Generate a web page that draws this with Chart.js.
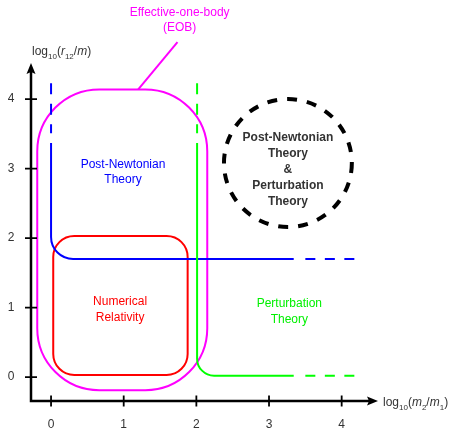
<!DOCTYPE html>
<html>
<head>
<meta charset="utf-8">
<script src="https://cdn.jsdelivr.net/npm/chart.js@4.4.1/dist/chart.umd.min.js"></script>
<style>
  html, body { margin: 0; padding: 0; background: #fff; }
</style>
</head>
<body>
<canvas id="regimes" width="449" height="428"></canvas>
<script>
// tick values on both axes (log10 units)
const xTicks = [0, 1, 2, 3, 4];
const yTicks = [0, 1, 2, 3, 4];

// regions: [x0, y0, x1, y1]
const eobBox = [-0.19, -0.19, 2.15, 4.14];
const nrBox = [0.03, 0.03, 1.88, 2.03];

// boundary lines: [x, y] points
const pnLine = [[0, 3.37], [0, 1.70], [3.34, 1.70]];
const pnDashV = [[0, 4.23], [0, 3.51]];
const pnDashH = [[3.50, 1.70], [4.18, 1.70]];
const ptLine = [[2.01, 3.37], [2.01, 0.02], [3.34, 0.02]];
const ptDashV = [[2.01, 4.23], [2.01, 3.51]];
const ptDashH = [[3.50, 0.02], [4.18, 0.02]];
const eobPointer = [[1.20, 4.14], [1.74, 4.82]];

// overlap circle: [cx, cy, radius in x units]
const overlapCircle = [3.26, 3.08, 0.88];

const FONT = '"Liberation Sans", Arial, Helvetica, sans-serif';
const toXY = pts => pts.map(p => ({ x: p[0], y: p[1] }));

function seg(pts, color, dash) {
  return {
    data: toXY(pts),
    showLine: true,
    borderColor: color,
    borderWidth: 2,
    borderDash: dash || [],
    pointRadius: 0,
    clip: false
  };
}

function roundedPath(ctx, pts, r) {
  ctx.beginPath();
  ctx.moveTo(pts[0][0], pts[0][1]);
  for (let i = 1; i < pts.length - 1; i++) {
    ctx.arcTo(pts[i][0], pts[i][1], pts[i + 1][0], pts[i + 1][1], r);
  }
  ctx.lineTo(pts[pts.length - 1][0], pts[pts.length - 1][1]);
}

function roundBox(ctx, l, t, rgt, b, r) {
  ctx.beginPath();
  ctx.moveTo(l + r, t);
  ctx.arcTo(rgt, t, rgt, b, r);
  ctx.arcTo(rgt, b, l, b, r);
  ctx.arcTo(l, b, l, t, r);
  ctx.arcTo(l, t, rgt, t, r);
  ctx.closePath();
}

// "log10(a_b/c_d)" style label with subscripts and italics
function richText(ctx, parts, x, y) {
  let cx = x;
  parts.forEach(p => {
    const size = p.sub ? 8 : 12;
    ctx.font = (p.it ? 'italic ' : '') + size + 'px ' + FONT;
    ctx.fillText(p.t, cx, y + (p.sub ? 4 : 0));
    cx += ctx.measureText(p.t).width;
  });
}

function lines(ctx, txt, x, y, step) {
  txt.forEach((t, i) => ctx.fillText(t, x, y + i * step));
}

const diagram = {
  id: 'diagram',
  beforeDatasetsDraw(chart) {
    const { ctx, scales: { x, y } } = chart;
    const px = v => x.getPixelForValue(v);
    const py = v => y.getPixelForValue(v);
    const P = pts => pts.map(p => [px(p[0]), py(p[1])]);
    ctx.save();
    ctx.lineWidth = 2;

    ctx.strokeStyle = '#ff00ff';
    roundBox(ctx, px(eobBox[0]), py(eobBox[3]), px(eobBox[2]), py(eobBox[1]), 62);
    ctx.stroke();

    ctx.strokeStyle = '#ff0000';
    roundBox(ctx, px(nrBox[0]), py(nrBox[3]), px(nrBox[2]), py(nrBox[1]), 21);
    ctx.stroke();

    ctx.strokeStyle = '#0000ff';
    roundedPath(ctx, P(pnLine), 22);
    ctx.stroke();

    ctx.strokeStyle = '#00ff00';
    roundedPath(ctx, P(ptLine), 17);
    ctx.stroke();

    // dashed circle
    const [ccx, ccy, cr] = overlapCircle;
    const rpx = px(ccx + cr) - px(ccx);
    ctx.strokeStyle = '#000';
    ctx.lineWidth = 4;
    ctx.setLineDash([10, 10]);
    ctx.beginPath();
    ctx.arc(px(ccx), py(ccy), rpx, 0, Math.PI * 2);
    ctx.stroke();
    ctx.setLineDash([]);
    ctx.restore();
  },
  afterDraw(chart) {
    const { ctx, chartArea: a, scales: { x, y } } = chart;
    const px = v => x.getPixelForValue(v);
    const py = v => y.getPixelForValue(v);
    const ax = px(x.min), ay = py(y.min);
    ctx.save();

    // axes with arrow heads
    ctx.strokeStyle = '#000';
    ctx.fillStyle = '#000';
    ctx.lineWidth = 2.5;
    ctx.beginPath();
    ctx.moveTo(ax, a.top + 8);
    ctx.lineTo(ax, ay);
    ctx.lineTo(a.right - 8, ay);
    ctx.stroke();
    ctx.beginPath();
    ctx.moveTo(ax, a.top);
    ctx.lineTo(ax - 4.5, a.top + 11);
    ctx.lineTo(ax, a.top + 9);
    ctx.lineTo(ax + 4.5, a.top + 11);
    ctx.closePath();
    ctx.fill();
    ctx.beginPath();
    ctx.moveTo(a.right, ay);
    ctx.lineTo(a.right - 11, ay - 4.5);
    ctx.lineTo(a.right - 9, ay);
    ctx.lineTo(a.right - 11, ay + 4.5);
    ctx.closePath();
    ctx.fill();

    // tick marks crossing the axes
    ctx.lineWidth = 1.8;
    ctx.beginPath();
    xTicks.forEach(v => { ctx.moveTo(px(v), ay - 5.5); ctx.lineTo(px(v), ay + 5.5); });
    yTicks.forEach(v => { ctx.moveTo(ax - 6, py(v)); ctx.lineTo(ax + 6, py(v)); });
    ctx.stroke();

    // axis titles
    ctx.fillStyle = '#333';
    ctx.textAlign = 'left';
    ctx.textBaseline = 'alphabetic';
    richText(ctx, [{ t: 'log' }, { t: '10', sub: true }, { t: '(' }, { t: 'r', it: true },
      { t: '12', sub: true }, { t: '/' }, { t: 'm', it: true }, { t: ')' }], 32, 55);
    richText(ctx, [{ t: 'log' }, { t: '10', sub: true }, { t: '(' }, { t: 'm', it: true },
      { t: '2', sub: true }, { t: '/' }, { t: 'm', it: true }, { t: '1', sub: true }, { t: ')' }], 383, 406);

    // region labels
    ctx.textAlign = 'center';
    ctx.textBaseline = 'middle';
    ctx.font = '12px ' + FONT;
    ctx.fillStyle = '#ff00ff';
    lines(ctx, ['Effective-one-body', '(EOB)'], px(1.77), 13, 14.5);
    ctx.fillStyle = '#0000ff';
    lines(ctx, ['Post-Newtonian', 'Theory'], px(0.99), py(3.06), 15.5);
    ctx.fillStyle = '#ff0000';
    lines(ctx, ['Numerical', 'Relativity'], px(0.95), py(1.08), 16);
    ctx.fillStyle = '#00f000';
    lines(ctx, ['Perturbation', 'Theory'], px(3.28), py(1.05), 16);
    ctx.fillStyle = '#333';
    ctx.font = 'bold 12px ' + FONT;
    lines(ctx, ['Post-Newtonian', 'Theory', '&', 'Perturbation', 'Theory'], px(3.26), py(3.45), 16.2);
    ctx.restore();
  }
};

new Chart(document.getElementById('regimes'), {
  type: 'scatter',
  data: {
    datasets: [
      seg(pnDashV, '#0000ff', [11, 9.5]),
      seg(pnDashH, '#0000ff', [10, 9.5]),
      seg(ptDashV, '#00ff00', [11, 9.5]),
      seg(ptDashH, '#00ff00', [10, 9.5]),
      seg(eobPointer, '#ff00ff')
    ]
  },
  options: {
    responsive: false,
    animation: false,
    events: [],
    layout: { padding: { left: 0, top: 63, right: 71, bottom: 0 } },
    plugins: { legend: { display: false }, tooltip: { enabled: false } },
    scales: {
      x: {
        type: 'linear',
        min: -0.276,
        max: 4.5,
        grid: { display: false, drawTicks: false },
        border: { display: false },
        afterBuildTicks: axis => { axis.ticks = xTicks.map(v => ({ value: v })); },
        afterFit: axis => { axis.height = 27; },
        ticks: { padding: 16, color: '#333', font: { family: FONT, size: 12 }, maxRotation: 0 }
      },
      y: {
        type: 'linear',
        min: -0.345,
        max: 4.52,
        grid: { display: false, drawTicks: false },
        border: { display: false },
        afterBuildTicks: axis => { axis.ticks = yTicks.map(v => ({ value: v })); },
        afterFit: axis => { axis.width = 31; },
        ticks: { padding: 16.5, color: '#333', font: { family: FONT, size: 12 } }
      }
    }
  },
  plugins: [diagram]
});
</script>
</body>
</html>
